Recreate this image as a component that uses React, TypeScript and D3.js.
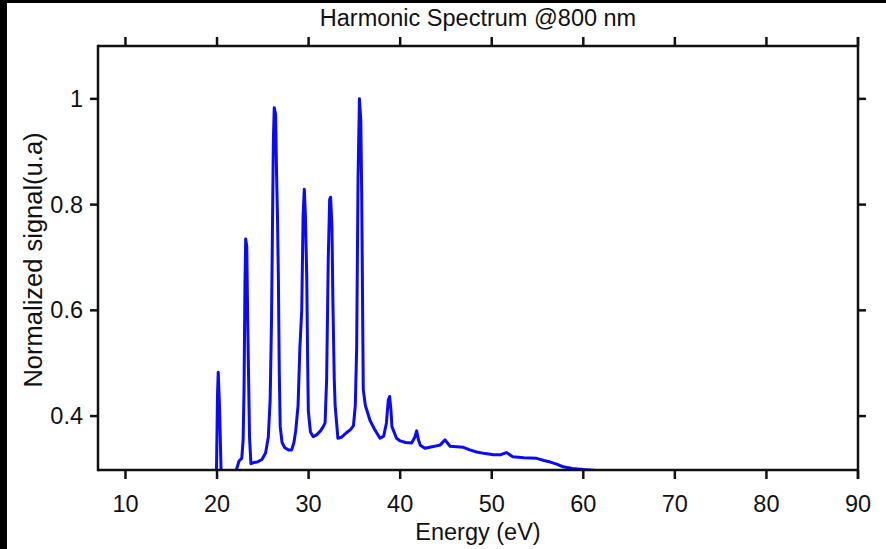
import React from "react";
import * as d3 from "d3";

const energy = [
  19.85, 19.95, 20.05, 20.13, 20.2, 20.25, 20.3, 20.38, 20.45, 20.6, 21.5, 22.0, 22.15, 22.4, 22.7, 22.85,
  22.95, 23.05, 23.13, 23.25, 23.35, 23.45, 23.55, 23.7, 24.0, 24.4, 24.9, 25.3, 25.6, 25.8, 25.95, 26.05,
  26.15, 26.25, 26.4, 26.5, 26.6, 26.7, 26.8, 26.9, 27.1, 27.4, 27.8, 28.15, 28.4, 28.6, 28.85, 29.05,
  29.25, 29.4, 29.53, 29.65, 29.8, 29.9, 29.97, 30.2, 30.5, 30.9, 31.3, 31.6, 31.8, 31.97, 32.15, 32.3,
  32.4, 32.55, 32.65, 32.8, 32.9, 33.2, 33.6, 34.1, 34.6, 34.9, 35.1, 35.25, 35.4, 35.55, 35.7, 35.8,
  35.9, 35.97, 36.2, 36.7, 37.2, 37.8, 38.2, 38.5, 38.7, 38.85, 39.0, 39.1, 39.6, 40.0, 40.6, 41.25,
  41.6, 41.8, 42.0, 42.2, 42.7, 43.5, 44.35, 44.9, 45.45, 46.2, 46.9, 47.6, 48.35, 49.3, 50.2, 51.0,
  51.6, 52.3, 53.5, 54.9, 55.7, 56.4, 57.1, 57.8, 58.8, 60.0, 61.1, 61.3,
];
const signal = [
  0.25, 0.31, 0.44, 0.483, 0.45, 0.43, 0.4, 0.34, 0.29, 0.22, 0.2, 0.27, 0.3, 0.315, 0.32, 0.355,
  0.45, 0.65, 0.735, 0.72, 0.58, 0.47, 0.36, 0.31, 0.312, 0.313, 0.318, 0.33, 0.36, 0.43, 0.58, 0.75,
  0.92, 0.983, 0.97, 0.86, 0.78, 0.66, 0.48, 0.38, 0.35, 0.34, 0.336, 0.336, 0.35, 0.373, 0.42, 0.53,
  0.6, 0.78, 0.829, 0.78, 0.66, 0.5, 0.41, 0.37, 0.361, 0.365, 0.372, 0.38, 0.387, 0.47, 0.7, 0.81,
  0.814, 0.76, 0.62, 0.47, 0.42, 0.358, 0.36, 0.368, 0.375, 0.382, 0.42, 0.53, 0.85, 1.0, 0.96, 0.82,
  0.6, 0.45, 0.42, 0.392, 0.375, 0.358, 0.362, 0.387, 0.43, 0.437, 0.41, 0.38, 0.358, 0.353, 0.35, 0.349,
  0.36, 0.372, 0.355, 0.345, 0.339, 0.342, 0.345, 0.355, 0.343, 0.342, 0.341, 0.336, 0.332, 0.329, 0.327, 0.327,
  0.331, 0.323, 0.321, 0.32, 0.316, 0.313, 0.309, 0.304, 0.301, 0.299, 0.2977, 0.297,
];
const xTicks = [10, 20, 30, 40, 50, 60, 70, 80, 90];
const yTicks = [0.4, 0.6, 0.8, 1];
const title = "Harmonic Spectrum @800 nm";
const xLabel = "Energy (eV)";
const yLabel = "Normalized signal(u.a)";

export default function App() {
  const W = 886, H = 549;
  const L = 98, R = 858, T = 46, B = 470;
  const x = d3.scaleLinear().domain([7, 90]).range([L, R]);
  const y = d3.scaleLinear().domain([0.298, 1.1]).range([B, T]);
  const pts = energy.map((e, i) => [e, signal[i]] as [number, number]);
  const line = d3.line<[number, number]>().x(d => x(d[0])).y(d => y(d[1]));
  const font = "'Liberation Sans', Arial, sans-serif";
  const fs = 23.5;
  return (
    <div style={{ position: "fixed", left: 0, top: 0 }}>
      <svg width={W} height={H} style={{ display: "block", background: "#fff" }}>
        <rect x={0} y={0} width={W} height={H} fill="#fff" />
        <rect x={0} y={0} width={7} height={H} fill="#000" />
        <rect x={0} y={0} width={W} height={3} fill="#000" />
        <defs>
          <clipPath id="plotclip">
            <rect x={L} y={T} width={R - L} height={B - T} />
          </clipPath>
        </defs>
        <path d={line(pts) || ""} fill="none" stroke="#0a0af5" strokeWidth={3}
          strokeLinejoin="round" clipPath="url(#plotclip)" />
        <g stroke="#111" strokeWidth={2.5} fill="none">
          <line x1={L} y1={T} x2={R} y2={T} />
          <line x1={L} y1={B} x2={R} y2={B} />
          <line x1={L} y1={T - 1.2} x2={L} y2={B + 1.2} />
          <line x1={R} y1={T - 9} x2={R} y2={B + 9} />
          {xTicks.map(t => (
            <g key={"xt" + t}>
              <line x1={x(t)} y1={B} x2={x(t)} y2={B + 9} />
              <line x1={x(t)} y1={T} x2={x(t)} y2={T - 9} />
            </g>
          ))}
          {yTicks.map(t => (
            <g key={"yt" + t}>
              <line x1={L} y1={y(t)} x2={L - 8} y2={y(t)} />
              <line x1={R} y1={y(t)} x2={R + 8} y2={y(t)} />
            </g>
          ))}
        </g>
        <g fontFamily={font} fontSize={fs} fill="#111">
          {xTicks.map(t => (
            <text key={"xl" + t} x={x(t)} y={512} textAnchor="middle">{t}</text>
          ))}
          {yTicks.map(t => (
            <text key={"yl" + t} x={83} y={y(t)} textAnchor="end" dominantBaseline="central">{String(t)}</text>
          ))}
          <text x={478} y={26} textAnchor="middle">{title}</text>
          <text x={478} y={540} textAnchor="middle">{xLabel}</text>
          <text transform={`translate(42,260) rotate(-90)`} textAnchor="middle" fontSize={25.5}>{yLabel}</text>
        </g>
      </svg>
    </div>
  );
}
